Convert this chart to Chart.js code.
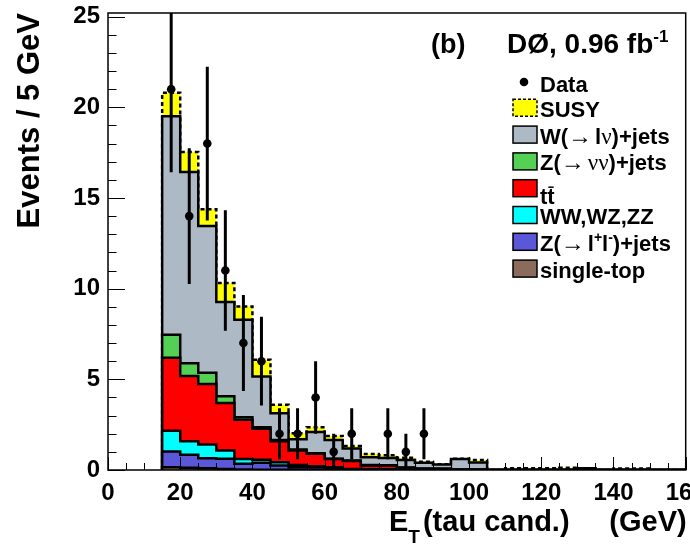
<!DOCTYPE html>
<html>
<head>
<meta charset="utf-8">
<script src="https://cdn.jsdelivr.net/npm/chart.js@4.4.1/dist/chart.umd.min.js"></script>
<style>
  html, body { margin: 0; padding: 0; background: #fff; }
  #wrap { width: 690px; height: 546px; }
</style>
</head>
<body>
<div id="wrap"><canvas id="chart-1" width="690" height="546"></canvas></div>
<script>
// bins: lower edge in GeV, 5 GeV wide
const binWidth = 5;
const binLow = [15, 20, 25, 30, 35, 40, 45, 50, 55, 60, 65, 70, 75, 80, 85, 90, 95, 100, 105, 110, 115, 120, 125, 130, 135, 140, 145, 150, 155];

// contributions per bin (stacked bottom -> top)
const singleTop = [0.15, 0.12, 0.10, 0.05, 0.03, 0.02, 0.01, 0.01, 0.02, 0, 0, 0, 0, 0, 0, 0, 0, 0, 0, 0, 0, 0, 0, 0, 0, 0, 0, 0, 0];
const zll       = [0.87, 0.72, 0.55, 0.57, 0.31, 0.38, 0.24, 0.14, 0.13, 0.06, 0.03, 0.02, 0.02, 0.01, 0, 0, 0, 0, 0, 0, 0, 0, 0, 0, 0, 0, 0, 0, 0];
const diboson   = [1.14, 0.75, 0.76, 0.46, 0.26, 0.16, 0.18, 0.12, 0.05, 0.09, 0.03, 0.02, 0.02, 0.02, 0.01, 0.01, 0, 0, 0, 0, 0, 0, 0, 0, 0, 0, 0, 0, 0];
const ttbar     = [4.03, 3.59, 3.33, 2.61, 2.17, 1.71, 1.16, 0.81, 0.69, 0.45, 0.44, 0.20, 0.20, 0.09, 0.06, 0.05, 0.02, 0.02, 0, 0, 0, 0, 0, 0, 0, 0, 0, 0, 0];
const znunu     = [1.27, 0.71, 0.62, 0.37, 0.14, 0.09, 0.07, 0.05, 0.03, 0.02, 0.02, 0.03, 0.02, 0.02, 0.01, 0.02, 0.01, 0.01, 0, 0, 0, 0, 0, 0, 0, 0, 0, 0, 0];
const wjets     = [12.04, 10.54, 8.09, 5.20, 5.38, 2.80, 1.47, 0.57, 1.18, 1.03, 0.66, 0.43, 0.40, 0.41, 0.32, 0.22, 0.57, 0.38, 0, 0, 0, 0, 0, 0.10, 0, 0, 0, 0, 0];
const susy      = [1.30, 1.11, 0.93, 1.05, 0.73, 0.92, 0.47, 0.33, 0.26, 0.23, 0.14, 0.18, 0.16, 0.13, 0.05, 0.02, 0.02, 0.14, 0, 0.10, 0.10, 0.10, 0.12, 0, 0, 0.08, 0.08, 0, 0];

// observed events and their error bars
const dataCounts = [21, 14, 18, 11, 7, 6, 2, 2, 4, 1, 2, 0, 2, 1, 2, 0, 0, 0, 0, 0, 0, 0, 0, 0, 0, 0, 0, 0, 0];
const dataErr    = [4.58, 3.74, 4.24, 3.32, 2.65, 2.45, 1.41, 1.41, 2.00, 1.00, 1.41, 0, 1.41, 1.00, 1.41, 0, 0, 0, 0, 0, 0, 0, 0, 0, 0, 0, 0, 0, 0];

const xTicksStep = 20;
const yTicksStep = 5;

const SANS = "'Liberation Sans', Arial, Helvetica, sans-serif";
const SERIF = "'Liberation Serif', 'DejaVu Serif', serif";

// step outline: open at the first edge, close at the last one
function steps(vals) {
    const pts = [{x: binLow[0], y: 0}];
    binLow.forEach((x, i) => pts.push({x: x + binWidth, y: vals[i]}));
    pts.push({x: binLow[binLow.length - 1] + binWidth, y: 0});
    return pts;
}

function histSet(label, vals, color, fill, dash) {
    return {
        type: 'line',
        label: label,
        data: steps(vals),
        backgroundColor: color,
        borderColor: '#000',
        borderWidth: 2.5,
        borderDash: dash || [],
        stepped: 'after',
        pointRadius: 0,
        pointHoverRadius: 0,
        tension: 0,
        fill: fill,
        stack: 'mc'
    };
}

const datasets = [
    histSet('single-top', singleTop, '#8b6b5c', 'origin'),
    histSet('Z(→ l+l-)+jets', zll, '#5a57d9', '-1'),
    histSet('WW,WZ,ZZ', diboson, '#00ffff', '-1'),
    histSet('tt', ttbar, '#ff0000', '-1'),
    histSet('Z(→ νν)+jets', znunu, '#54d154', '-1'),
    histSet('W(→ lν)+jets', wjets, '#adbac6', '-1'),
    histSet('SUSY', susy, '#ffff00', '-1', [4, 3]),
    {
        type: 'scatter',
        label: 'Data',
        data: binLow.map((x, i) => ({x: x + binWidth / 2, y: dataCounts[i]})).filter(p => p.y > 0),
        backgroundColor: '#000',
        borderWidth: 0,
        pointRadius: 4.3,
        pointHoverRadius: 4.3,
        stack: 'data',
        order: -1
    }
];

const errorBars = {
    id: 'errorBars',
    afterDatasetsDraw(chart) {
        const {ctx, chartArea: a, scales: {x, y}} = chart;
        ctx.save();
        ctx.beginPath();
        ctx.rect(a.left, a.top, a.right - a.left, a.bottom - a.top);
        ctx.clip();
        ctx.strokeStyle = '#000';
        ctx.lineWidth = 3;
        ctx.beginPath();
        binLow.forEach((lo, i) => {
            if (dataCounts[i] <= 0) return;
            const px = x.getPixelForValue(lo + binWidth / 2);
            ctx.moveTo(px, y.getPixelForValue(dataCounts[i] - dataErr[i]));
            ctx.lineTo(px, y.getPixelForValue(dataCounts[i] + dataErr[i]));
        });
        ctx.stroke();
        ctx.restore();
    }
};

const rootAxes = {
    id: 'rootAxes',
    afterDatasetsDraw(chart) {
        const {ctx, chartArea: a, scales: {x, y}} = chart;
        ctx.save();
        ctx.strokeStyle = '#000';
        ctx.lineWidth = 1;
        ctx.beginPath();
        for (let v = 0; v <= 25; v += 1) {
            const py = Math.round(y.getPixelForValue(v)) + 0.5;
            const len = v % yTicksStep === 0 ? 17 : 8.5;
            ctx.moveTo(a.left, py);
            ctx.lineTo(a.left + len, py);
        }
        for (let v = 0; v <= 160; v += binWidth) {
            const px = Math.round(x.getPixelForValue(v)) + 0.5;
            const len = v % xTicksStep === 0 ? 13 : 7;
            ctx.moveTo(px, a.bottom);
            ctx.lineTo(px, a.bottom - len);
        }
        ctx.stroke();
        ctx.lineWidth = 1.5;
        ctx.strokeRect(a.left, a.top, a.right - a.left, a.bottom - a.top);
        ctx.restore();
    }
};

function drawRich(ctx, x, y, parts) {
    parts.forEach(p => {
        ctx.font = p.f;
        ctx.fillText(p.t, x, y + (p.dy || 0));
        const w = ctx.measureText(p.t).width;
        if (p.bar) {
            ctx.lineWidth = 1.5;
            ctx.beginPath();
            ctx.moveTo(x + 1, y - 17);
            ctx.lineTo(x + w - 1, y - 17);
            ctx.stroke();
        }
        x += w + (p.gap || 0);
    });
    return x;
}

const B = 'bold 22px ' + SANS;
const SYM = '23px ' + SERIF;
const ARR = '24px ' + SERIF;
const SUP = 'bold 14px ' + SANS;

const legendRows = [
    {ds: 7, parts: [{t: 'Data', f: B}]},
    {ds: 6, parts: [{t: 'SUSY', f: B}]},
    {ds: 5, parts: [{t: 'W(', f: B}, {t: '→', f: ARR, gap: 3}, {t: 'l', f: B}, {t: 'ν', f: SYM}, {t: ')+jets', f: B}]},
    {ds: 4, parts: [{t: 'Z(', f: B}, {t: '→', f: ARR, gap: 3}, {t: 'νν', f: SYM}, {t: ')+jets', f: B}]},
    {ds: 3, dy: 7, parts: [{t: 't', f: B}, {t: 't', f: B, bar: true}]},
    {ds: 2, parts: [{t: 'WW,WZ,ZZ', f: B}]},
    {ds: 1, parts: [{t: 'Z(', f: B}, {t: '→', f: ARR, gap: 3}, {t: 'l', f: B}, {t: '+', f: SUP, dy: -9}, {t: 'l', f: B}, {t: '-', f: SUP, dy: -9}, {t: ')+jets', f: B}]},
    {ds: 0, parts: [{t: 'single-top', f: B}]}
];

const legendBox = {
    id: 'legendBox',
    afterDraw(chart) {
        const ctx = chart.ctx;
        ctx.save();
        ctx.fillStyle = '#000';
        ctx.strokeStyle = '#000';
        ctx.textBaseline = 'alphabetic';
        ctx.textAlign = 'left';
        legendRows.forEach((row, k) => {
            const cy = k === 0 ? 82 : 81 + 26.8 * k;
            const ds = chart.data.datasets[row.ds];
            if (ds.type === 'scatter') {
                ctx.beginPath();
                ctx.arc(524, cy, 4.3, 0, Math.PI * 2);
                ctx.fill();
            } else {
                ctx.fillStyle = ds.backgroundColor;
                ctx.fillRect(513, cy - 8.5, 24, 17);
                ctx.lineWidth = 1.5;
                ctx.setLineDash(ds.borderDash.length ? [3, 2] : []);
                ctx.strokeRect(513, cy - 8.5, 24, 17);
                ctx.setLineDash([]);
                ctx.fillStyle = '#000';
            }
            drawRich(ctx, 540, cy + 9 + (row.dy || 0) + (k === 0 ? 1 : 0), row.parts);
        });

        // labels on the plot
        drawRich(ctx, 431, 53, [{t: '(b)', f: 'bold 27px ' + SANS}]);
        drawRich(ctx, 507, 53, [{t: 'DØ, 0.96 fb', f: 'bold 28px ' + SANS}, {t: '-1', f: 'bold 17px ' + SANS, dy: -11}]);

        // x axis title
        const a = chart.chartArea;
        const xt = drawRich(ctx, 389, 531, [{t: 'E', f: 'bold 29px ' + SANS}, {t: 'T', f: 'bold 19px ' + SANS, dy: 12}]);
        drawRich(ctx, xt + 3, 531, [{t: '(tau cand.)', f: 'bold 29px ' + SANS}]);
        ctx.textAlign = 'right';
        ctx.font = 'bold 29px ' + SANS;
        ctx.fillText('(GeV)', a.right + 1, 531);
        ctx.restore();
    }
};

const tickFont = {family: SANS, size: 24, weight: 'bold'};

const config = {
    type: 'line',
    data: {datasets: datasets},
    options: {
        responsive: false,
        animation: false,
        events: [],
        layout: {padding: {top: 13, right: 3, left: 0, bottom: 0}},
        plugins: {
            legend: {display: false},
            tooltip: {enabled: false}
        },
        scales: {
            x: {
                type: 'linear',
                min: 0,
                max: 160,
                grid: {display: false, drawTicks: false},
                border: {display: false},
                ticks: {stepSize: xTicksStep, padding: 9, color: '#000', font: tickFont, maxRotation: 0, autoSkip: false},
                afterFit(s) { s.height = 76; s.paddingLeft = 0; s.paddingRight = 0; }
            },
            y: {
                min: 0,
                max: 25.2,
                stacked: true,
                grid: {display: false, drawTicks: false},
                border: {display: false},
                ticks: {stepSize: yTicksStep, includeBounds: false, padding: 8, color: '#000', font: tickFont},
                title: {
                    display: true,
                    text: 'Events / 5 GeV',
                    align: 'end',
                    color: '#000',
                    font: {family: SANS, size: 31, weight: 'bold'},
                    padding: {top: 12, bottom: 0}
                },
                afterFit(s) { s.width = 108; s.paddingTop = 0; s.paddingBottom = 0; }
            }
        }
    },
    plugins: [errorBars, rootAxes, legendBox]
};

const ctx = document.getElementById('chart-1').getContext('2d');
new Chart(ctx, config);
</script>
</body>
</html>
